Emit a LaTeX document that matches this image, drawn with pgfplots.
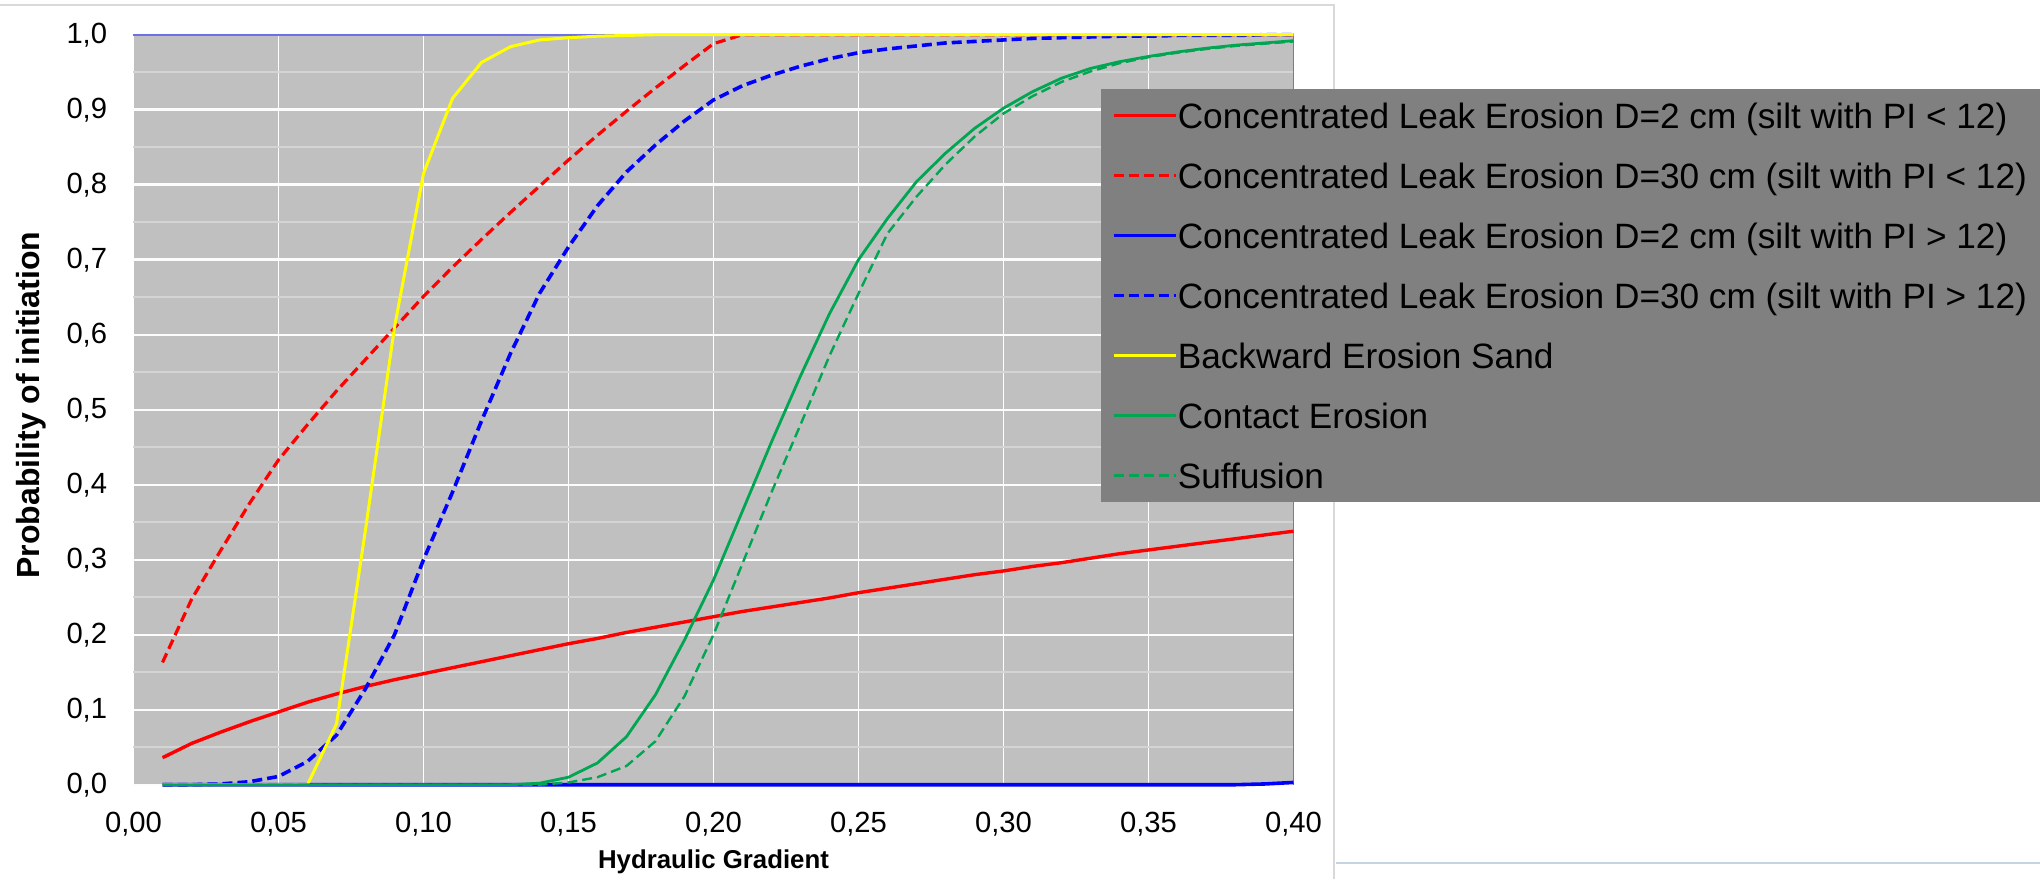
\documentclass[border=0pt]{standalone}
\usepackage{fontspec}
\setmainfont{Liberation Sans}
\usepackage{pgfplots}
\pgfplotsset{compat=1.18}
\definecolor{plotgray}{HTML}{C0C0C0}
\definecolor{legendgray}{HTML}{808080}
\definecolor{xgreen}{HTML}{00A651}
\definecolor{xyellow}{HTML}{FFFF00}
\definecolor{xred}{HTML}{FF0000}
\definecolor{xblue}{HTML}{0000FF}
\definecolor{framegray}{HTML}{D9D9D9}
\definecolor{borderblue}{HTML}{6F6FE8}
\definecolor{minorgrid}{HTML}{D4D4D4}
\definecolor{lineblue}{HTML}{C5D3E2}
\begin{document}
\begin{tikzpicture}
\useasboundingbox (0pt,0pt) rectangle (510pt,219.75pt);
\clip (0pt,0pt) rectangle (510pt,219.75pt);
\fill[white] (0pt,0pt) rectangle (510pt,219.75pt);
\draw[framegray, line width=0.5pt] (0pt,218.5pt) -- (333.5pt,218.5pt) -- (333.5pt,0pt);
\draw[lineblue, line width=0.5pt] (334pt,4pt) -- (510pt,4pt);
\begin{axis}[
  at={(33.375pt,23.575pt)}, anchor=south west,
  scale only axis, width=290pt, height=187.5pt,
  xmin=0, xmax=0.4, ymin=0, ymax=1,
  clip=false,
  axis line style={draw=none},
  axis background/.style={fill=plotgray},
  xtick={0,0.05,0.1,0.15,0.2,0.25,0.3,0.35,0.4},
  ytick={0,0.1,0.2,0.3,0.4,0.5,0.6,0.7,0.8,0.9,1},
  minor ytick={0.05,0.15,0.25,0.35,0.45,0.55,0.65,0.75,0.85,0.95},
  xmajorgrids, ymajorgrids, yminorgrids,
  major x grid style={white, line width=0.4pt},
  major y grid style={white!95!plotgray, line width=0.6pt},
  minor y grid style={minorgrid, line width=0.45pt},
  major tick length=0pt, minor tick length=0pt,
  tick style={draw=none},
  /pgf/number format/assume math mode=true,
  ticklabel style={font=\fontsize{7.3}{8.7}\selectfont},
  xticklabel style={/pgf/number format/.cd, fixed, fixed zerofill, precision=2, use comma, /tikz/.cd, inner sep=0pt, anchor=north, yshift=-6.7pt},
  yticklabel style={/pgf/number format/.cd, fixed, fixed zerofill, precision=1, use comma, /tikz/.cd, inner sep=0pt, anchor=east, xshift=-6.4pt},
  xlabel={Hydraulic Gradient},
  ylabel={Probability of initiation},
  xlabel style={font=\bfseries\fontsize{6.45}{7.7}\selectfont, at={(axis description cs:0.5,-0.103)}, anchor=center},
  ylabel style={font=\bfseries\fontsize{8}{9.6}\selectfont, at={(axis description cs:-0.0878,0.506)}, anchor=center},
  legend style={at={(0.8332,0.929)}, anchor=north west, fill=legendgray, draw=none,
    inner xsep=2.75pt, inner ysep=2.4pt, row sep=6.5pt, column sep=0pt,
    font=\fontsize{8.8}{10.5}\selectfont,
    nodes={inner sep=0pt, text height=7.5pt, text depth=1pt}},
  legend cell align=left,
  legend image code/.code={\draw[#1] (0pt,0pt) -- (15.6pt,0pt);},
]
\draw[borderblue, line width=0.45pt] (rel axis cs:0,1) -- (rel axis cs:1,1) -- (rel axis cs:1,0);

\addplot[xred, line width=0.85pt] coordinates {
(0.01,0.036) (0.02,0.055) (0.03,0.070) (0.04,0.084) (0.05,0.097)
(0.06,0.110) (0.07,0.121) (0.08,0.131) (0.09,0.140) (0.10,0.148)
(0.11,0.156) (0.12,0.164) (0.13,0.172) (0.14,0.180) (0.15,0.188)
(0.16,0.195) (0.17,0.203) (0.18,0.210) (0.19,0.217) (0.20,0.224)
(0.21,0.231) (0.22,0.237) (0.23,0.243) (0.24,0.249) (0.25,0.256)
(0.26,0.262) (0.27,0.268) (0.28,0.274) (0.29,0.280) (0.30,0.285)
(0.31,0.291) (0.32,0.296) (0.33,0.302) (0.34,0.308) (0.35,0.313)
(0.36,0.318) (0.37,0.323) (0.38,0.328) (0.39,0.333) (0.40,0.338)};
\addlegendentry{Concentrated Leak Erosion D=2 cm (silt with PI < 12)}

\addplot[xred, line width=0.8pt, dash pattern=on 2.5pt off 1.25pt] coordinates {
(0.01,0.163) (0.02,0.247) (0.03,0.312) (0.04,0.375) (0.05,0.433)
(0.06,0.480) (0.07,0.525) (0.08,0.567) (0.09,0.609) (0.10,0.651)
(0.11,0.690) (0.12,0.727) (0.13,0.763) (0.14,0.798) (0.15,0.833)
(0.16,0.866) (0.17,0.898) (0.18,0.929) (0.19,0.959) (0.20,0.988)
(0.21,1.000) (0.25,1.000) (0.30,1.000) (0.35,1.000) (0.40,1.000)};
\addlegendentry{Concentrated Leak Erosion D=30 cm (silt with PI < 12)\hspace*{4pt}}

\addplot[xblue, line width=0.9pt] coordinates {
(0.01,0) (0.05,0) (0.10,0) (0.15,0) (0.20,0) (0.25,0) (0.30,0) (0.35,0)
(0.38,0) (0.39,0.001) (0.40,0.003)};
\addlegendentry{Concentrated Leak Erosion D=2 cm (silt with PI > 12)}

\addplot[xblue, line width=0.9pt, dash pattern=on 2.5pt off 1.25pt] coordinates {
(0.01,0.000) (0.02,0.000) (0.03,0.001) (0.04,0.004) (0.05,0.011)
(0.06,0.031) (0.07,0.066) (0.08,0.128) (0.09,0.200) (0.10,0.300)
(0.11,0.390) (0.12,0.485) (0.13,0.575) (0.14,0.655) (0.15,0.717)
(0.16,0.772) (0.17,0.817) (0.18,0.853) (0.19,0.885) (0.20,0.913)
(0.21,0.932) (0.22,0.946) (0.23,0.958) (0.24,0.968) (0.25,0.976)
(0.26,0.981) (0.27,0.985) (0.28,0.989) (0.29,0.991) (0.30,0.993)
(0.31,0.995) (0.32,0.996) (0.33,0.997) (0.34,0.998) (0.35,0.998)
(0.36,0.999) (0.37,0.999) (0.38,0.999) (0.39,1.000) (0.40,1.000)};
\addlegendentry{Concentrated Leak Erosion D=30 cm (silt with PI > 12)\hspace*{4pt}}

\addplot[xyellow, line width=0.75pt] coordinates {
(0.01,0) (0.02,0) (0.03,0) (0.04,0) (0.05,0) (0.06,0)
(0.07,0.081) (0.08,0.340) (0.09,0.610) (0.10,0.815) (0.11,0.915)
(0.12,0.963) (0.13,0.984) (0.14,0.993) (0.15,0.996) (0.16,0.998)
(0.17,0.999) (0.18,1.000) (0.25,1.000) (0.30,1.000) (0.35,1.000) (0.40,1.000)};
\addlegendentry{Backward Erosion Sand}

\addplot[xgreen, line width=0.7pt] coordinates {
(0.01,0) (0.05,0) (0.10,0) (0.12,0) (0.13,0)
(0.14,0.002) (0.15,0.010) (0.16,0.029) (0.17,0.064) (0.18,0.120)
(0.19,0.193) (0.20,0.273) (0.21,0.365) (0.22,0.457) (0.23,0.545)
(0.24,0.628) (0.25,0.700) (0.26,0.755) (0.27,0.804) (0.28,0.842)
(0.29,0.875) (0.30,0.902) (0.31,0.924) (0.32,0.942) (0.33,0.955)
(0.34,0.964) (0.35,0.971) (0.36,0.977) (0.37,0.982) (0.38,0.986)
(0.39,0.989) (0.40,0.992)};
\addlegendentry{Contact Erosion}

\addplot[xgreen, line width=0.6pt, dash pattern=on 2.5pt off 1.25pt] coordinates {
(0.01,0) (0.05,0) (0.10,0) (0.13,0) (0.14,0)
(0.15,0.003) (0.16,0.010) (0.17,0.025) (0.18,0.058) (0.19,0.118)
(0.20,0.200) (0.21,0.295) (0.22,0.390) (0.23,0.480) (0.24,0.572)
(0.25,0.655) (0.26,0.735) (0.27,0.784) (0.28,0.827) (0.29,0.864)
(0.30,0.895) (0.31,0.918) (0.32,0.937) (0.33,0.951) (0.34,0.962)
(0.35,0.970) (0.36,0.976) (0.37,0.981) (0.38,0.985) (0.39,0.988)
(0.40,0.991)};
\addlegendentry{Suffusion}
\end{axis}
\end{tikzpicture}
\end{document}
